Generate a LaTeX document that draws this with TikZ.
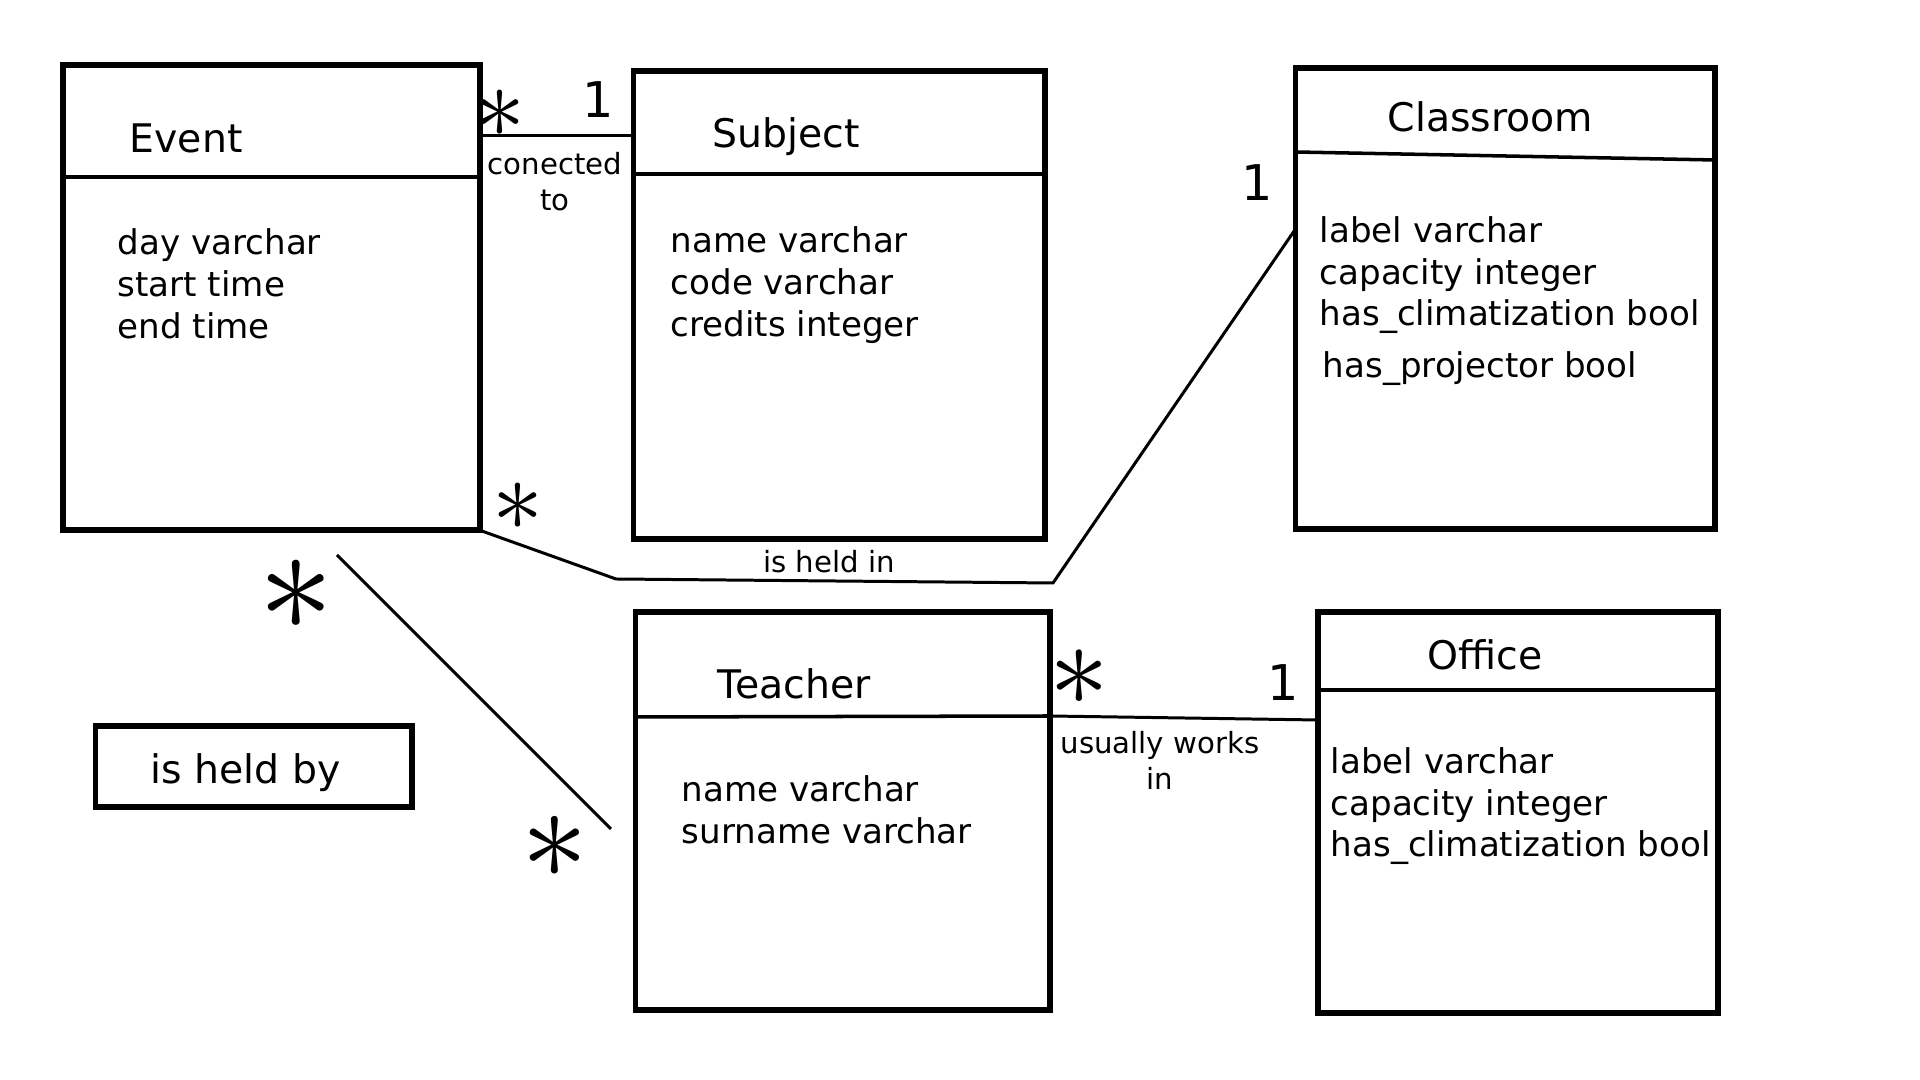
\documentclass[tikz,border=0pt]{standalone}
\usepackage{fontspec}
\setmainfont{DejaVu Sans}
\usetikzlibrary{positioning,calc}

\newcommand{\manymark}[1]{\scalebox{#1}{$\ast$}}

\tikzset{
  entity/.style={draw=black, line width=1.7pt, inner sep=0pt, outer sep=0pt, anchor=north west},
  headrule/.style={line width=1pt},
  link/.style={line width=0.85pt},
  entname/.style={font=\fontsize{11.2}{13.4}\selectfont, anchor=base west, inner sep=0pt},
  attr/.style={font=\fontsize{9.7}{11.6}\selectfont, anchor=base west, inner sep=0pt},
  rellabel/.style={font=\fontsize{8.3}{10}\selectfont, align=center, inner sep=0pt},
  multstar/.style={font=\fontsize{10}{10}\selectfont, inner sep=0pt},
  multone/.style={font=\fontsize{14}{14}\selectfont, inner sep=0pt}
}

\begin{document}
\begin{tikzpicture}[x=0.01cm,y=-0.01cm]
  \useasboundingbox (0,0) rectangle (1920,1080);
  \node[entity, minimum width=4.165cm, minimum height=4.65cm] (event) at (63,65) {};
  \node[entity, minimum width=4.115cm, minimum height=4.68cm] (subject) at (633.5,71) {};
  \node[entity, minimum width=4.195cm, minimum height=4.61cm] (classroom) at (1295.5,68) {};
  \node[entity, minimum width=4.145cm, minimum height=3.98cm] (teacher) at (635.5,612) {};
  \node[entity, minimum width=4cm, minimum height=4.01cm] (office) at (1318,612) {};
  \node[entity, minimum width=3.165cm, minimum height=0.81cm] (heldby) at (95.5,726) {};
  \node[entname] (heldbytext) at (150,784) {is held by};
  \foreach \e/\ya/\yb in {event/177/177, subject/174/174, classroom/152/160, teacher/717/716, office/690/690}
    \draw[headrule] (\e.west |- 0,\ya) -- (\e.east |- 0,\yb);
  \foreach \n/\x/\y/\t in {eventname/129/153/Event, subjectname/712/148/Subject,
     classroomname/1387/132/Classroom, teachername/717/699/Teacher, officename/1427/670/Office}
    \node[entname] (\n) at (\x,\y) {\t};
  \foreach \t [count=\i] in {day varchar, start time, end time}
    \node[attr] (eventattr\i) at (117,{255+(\i-1)*42}) {\t};
  \foreach \t [count=\i] in {name varchar, code varchar, credits integer}
    \node[attr] (subjectattr\i) at (670,{253+(\i-1)*42}) {\t};
  \foreach \t [count=\i] in {label varchar, capacity integer, has\_climatization bool}
    \node[attr] (classroomattr\i) at (1319,{243+(\i-1)*41.5}) {\t};
  \node[attr] (classroomattr4) at (1322,378) {has\_projector bool};
  \foreach \t [count=\i] in {name varchar, surname varchar}
    \node[attr] (teacherattr\i) at (681,{802+(\i-1)*42}) {\t};
  \foreach \t [count=\i] in {label varchar, capacity integer, has\_climatization bool}
    \node[attr] (officeattr\i) at (1330,{774+(\i-1)*41.5}) {\t};

  \draw[link] (event.east |- 0,136) -- (subject.west |- 0,136);
  \node[rellabel, anchor=north] (conlabel) at (555,152) {conected\\to};
  \node[multstar] (conmany) at (500,114) {\manymark{2.9}};
  \node[multone] (conone) at (598,100) {1};

  \coordinate (heldbend1) at (616,579);
  \coordinate (heldbend2) at (1053,583);
  \draw[link] (event.south east) -- (heldbend1) -- (heldbend2) -- (classroom.west |- 0,229);
  \node[rellabel, anchor=base] (heldinlabel) at (829,573) {is held in};
  \node[multstar] (heldinmany) at (518,507) {\manymark{2.9}};
  \node[multone] (heldinone) at (1257,183) {1};

  \coordinate (heldbyA) at (337,555);
  \coordinate (heldbyB) at (611,829);
  \draw[link] (heldbyA) -- (heldbyB);
  \node[multstar] (heldbymanyA) at (296,595) {\manymark{4.3}};
  \node[multstar] (heldbymanyB) at (555,847) {\manymark{3.8}};

  \draw[link] (teacher.east |- 0,716) -- (office.west |- 0,720);
  \node[rellabel, anchor=north] (worklabel) at (1160,731) {usually works\\in};
  \node[multstar] (workmany) at (1079,678) {\manymark{3.4}};
  \node[multone] (workone) at (1283,683) {1};
\end{tikzpicture}
\end{document}
